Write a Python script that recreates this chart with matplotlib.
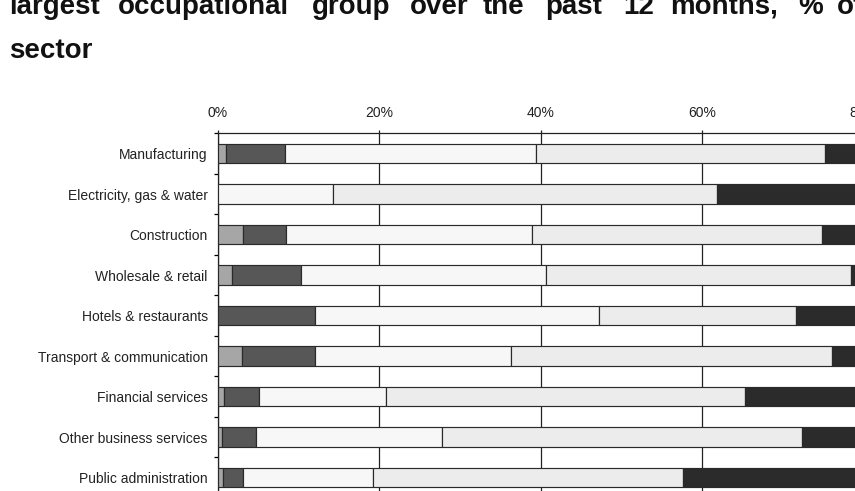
import numpy as np
import matplotlib
matplotlib.use('Agg')
import matplotlib.pyplot as plt
from matplotlib.ticker import PercentFormatter

plt.rcParams['font.family'] = ['Liberation Sans', 'DejaVu Sans']

sectors = ['Manufacturing', 'Electricity, gas & water', 'Construction',
           'Wholesale & retail', 'Hotels & restaurants',
           'Transport & communication', 'Financial services',
           'Other business services', 'Public administration']

# five stacked groups, % of sector
grp1 = [1.1, 0.0, 3.1, 1.8, 0.0, 3.0, 0.8, 0.5, 0.7]
grp2 = [7.3, 0.0, 5.4, 8.5, 12.1, 9.1, 4.4, 4.3, 2.5]
grp3 = [31.1, 14.3, 30.5, 30.4, 35.2, 24.2, 15.7, 23.0, 16.1]
grp4 = [35.7, 47.6, 35.9, 37.7, 24.4, 39.8, 44.4, 44.6, 38.3]
grp5 = [24.8, 38.1, 25.1, 21.6, 28.3, 23.9, 34.7, 27.6, 42.4]

x_ticks = [0, 20, 40, 60, 80, 100]

colors = ['#a6a6a6', '#575757', '#f7f7f7', '#ececec', '#2b2b2b']

W, H = 855, 491
fig = plt.figure(figsize=(W / 100, H / 100), dpi=100)
fig.patch.set_facecolor('white')

# axes runs past the right and bottom edges, like the cropped reference
ax = fig.add_axes([217.5 / W, 1 - 497.8 / H, 807.5 / W, 364.5 / H])

y = np.arange(len(sectors))
left = np.zeros(len(sectors))
for vals, col in zip([grp1, grp2, grp3, grp4, grp5], colors):
    ax.barh(y, vals, left=left, height=0.49, color=col,
            edgecolor='#2a2a2a', linewidth=0.85, zorder=3)
    left += np.array(vals)

ax.set_xlim(0, 100)
ax.set_ylim(len(sectors) - 0.5, -0.5)

ax.xaxis.tick_top()
ax.set_xticks(x_ticks)
ax.xaxis.set_major_formatter(PercentFormatter(decimals=0))
ax.tick_params(axis='x', direction='out', length=2.5, width=0.9,
               pad=7, labelsize=10, colors='#222222')
ax.grid(axis='x', color='#222222', linewidth=0.9, zorder=0)

ax.set_yticks(y)
ax.set_yticklabels(sectors)
ax.set_yticks(np.arange(len(sectors) + 1) - 0.5, minor=True)
ax.tick_params(axis='y', which='major', length=0, pad=7, labelsize=10,
               colors='#222222')
ax.tick_params(axis='y', which='minor', length=3, width=0.9, direction='out')

for side in ['top', 'left']:
    ax.spines[side].set_color('#222222')
    ax.spines[side].set_linewidth(0.9)
for side in ['right', 'bottom']:
    ax.spines[side].set_visible(False)

# justified title, first line cropped at the top
words = ['largest', 'occupational', 'group', 'over', 'the', 'past',
         '12', 'months,', '%', 'of']
word_x = [9, 118, 312, 410, 483, 545, 623, 670, 798, 837]
for w, xp in zip(words, word_x):
    fig.text(xp / W, 1 - 14 / H, w, fontsize=20, fontweight='bold',
             ha='left', va='baseline', color='#111111')
fig.text(9 / W, 1 - 58 / H, 'sector', fontsize=20, fontweight='bold',
         ha='left', va='baseline', color='#111111')

fig.savefig('out.png', dpi=100)
